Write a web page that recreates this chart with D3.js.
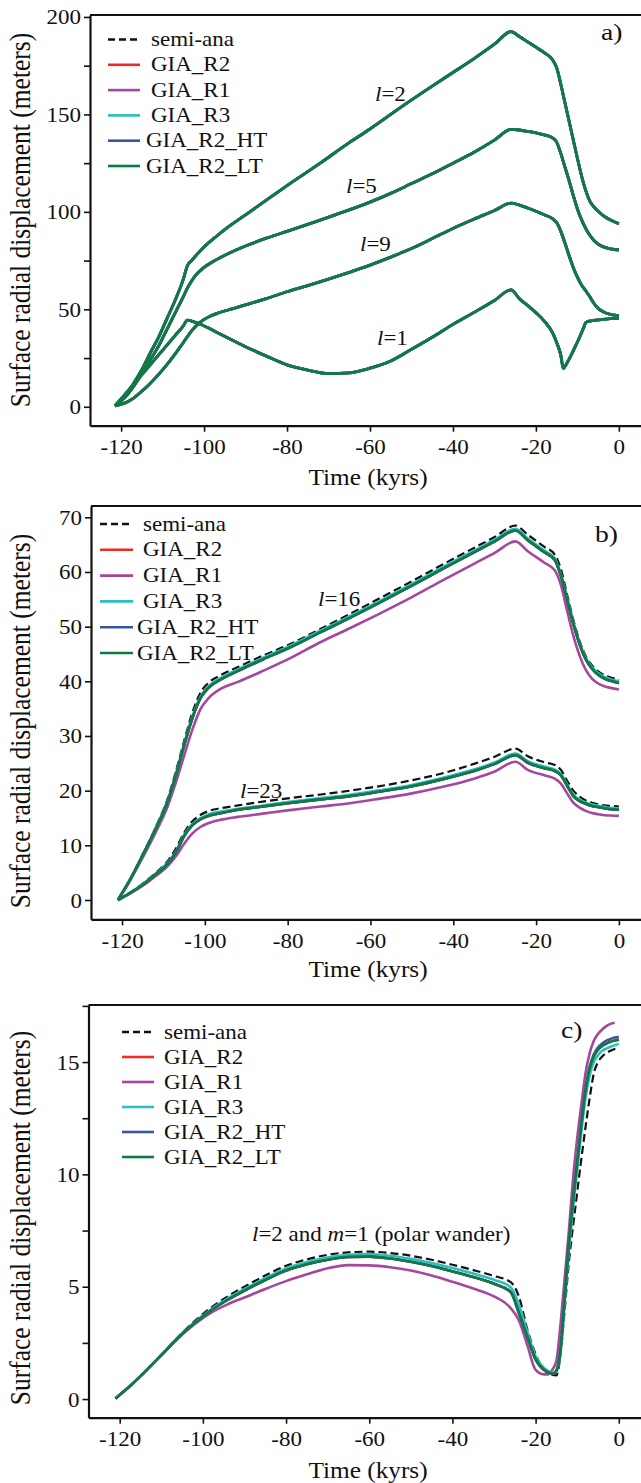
<!DOCTYPE html>
<html>
<head>
<meta charset="utf-8">
<script src="https://cdn.jsdelivr.net/npm/d3@7"></script>
<style>
  body { margin: 0; background: #fff; }
  svg { display: block; }
  text { font-family: "Liberation Serif", "Times New Roman", serif; fill: #111; }
</style>
</head>
<body>
<svg id="chart" width="641" height="1483"></svg>
<script>
const seriesNames = ["semi-ana", "GIA_R2", "GIA_R1", "GIA_R3", "GIA_R2_HT", "GIA_R2_LT"];
const seriesColors = ["#111111", "#ed2b25", "#a6479f", "#2bbfc0", "#3a54a4", "#0d7b42"];

const xTicks = [-120, -100, -80, -60, -40, -20, 0];
const aTicks = [0, 25, 50, 75, 100, 125, 150, 175, 200];
const bTicks = [0, 10, 20, 30, 40, 50, 60, 70];
const cTicks = [0, 2.5, 5, 7.5, 10, 12.5, 15, 17.5];

// panel a: the six runs sit on top of each other, one curve per degree l
const aL2 = [[-121.5,0.5],[-119,6],[-117,12],[-115,19],[-113,27.5],[-111,35.5],[-109,45],[-107,54.5],[-105,65.5],[-104,72.5],[-103,75],[-102,77.5],[-100,82],[-97,87.5],[-94,92.5],[-90,98.5],[-85,106],[-80,113.5],[-72,125],[-65,135.5],[-60,142.5],[-52,154.5],[-45,164.5],[-40,171.5],[-35,178.5],[-30,186],[-26,192.5],[-24,190],[-22,187.2],[-20,184.5],[-18,181.7],[-16,178],[-15,174],[-14,165.5],[-13,156],[-12,146.5],[-11,137],[-10,127.5],[-9,118.5],[-8,111],[-7,105.5],[-6,102.5],[-5,100.3],[-4,98.5],[-3,97],[-2,95.8],[-1,94.8],[0,94]];
const aL5 = [[-121.5,0.5],[-119,5],[-117,10.5],[-115,17],[-113,24],[-111,31],[-109,39.5],[-107,48],[-105,56.5],[-104,61],[-103,64.5],[-102,67.5],[-100,71.5],[-97,75.5],[-94,78.8],[-90,82.5],[-85,86.5],[-80,90],[-72,95.8],[-65,101],[-60,105],[-55,109.5],[-50,114.5],[-45,119.5],[-40,125],[-35,130.5],[-30,136.8],[-26,142.3],[-24,142],[-22,141.3],[-20,140.5],[-18,139.5],[-16,138],[-15,135.8],[-14,130],[-13,123],[-12,116],[-11,108.5],[-10,101.5],[-9,96],[-8,91.5],[-7,88],[-6,85.3],[-5,83.5],[-4,82.3],[-3,81.5],[-2,81],[-1,80.7],[0,80.5]];
const aL9 = [[-121.5,0.5],[-119,2],[-117,4.5],[-115,8],[-113,12],[-111,16.5],[-109,21.5],[-107,27],[-105,33],[-103,39],[-101,43.3],[-99,46],[-97,47.8],[-94,49.8],[-90,52.3],[-85,55.5],[-80,59],[-75,62.2],[-70,65.5],[-65,69],[-60,72.7],[-55,76.8],[-50,81.2],[-45,86.3],[-40,91.5],[-35,96.2],[-30,100.7],[-26,104.5],[-24,103.5],[-22,102],[-20,100.3],[-18,98.5],[-16,96.5],[-15,94.5],[-14,90],[-13,84],[-12,77.5],[-11,71.5],[-10,66.5],[-9,62.5],[-8,59.5],[-7,56.5],[-6,53],[-5,50.5],[-4,49],[-3,48],[-2,47.4],[-1,47],[0,46.8]];
const aL1 = [[-121.5,0.5],[-119,6.5],[-117,11.5],[-115,16.5],[-113,21.5],[-111,26.5],[-109,31.5],[-107,36.5],[-105,41.5],[-104,44.5],[-103,44],[-101,42.5],[-99,40.5],[-97,38.3],[-94,35],[-90,30.8],[-85,26],[-80,21.5],[-75,18.8],[-70,17],[-65,17.4],[-60,19.8],[-55,23.5],[-50,29.5],[-45,35.7],[-40,42.3],[-35,48.3],[-30,54.5],[-26,60],[-24,55.5],[-22,52],[-20,48.3],[-18,44],[-16,38],[-15,33],[-14,26.5],[-13.4,19.7],[-12.5,22.5],[-11.5,26.5],[-10.5,31],[-9.5,35.5],[-8.5,40.5],[-8,43.2],[-7,44],[-6,44.3],[-5,44.6],[-4,44.8],[-3,45],[-2,45.2],[-1,45.3],[0,45.4]];

// panel b: l=16 and l=23
const timeB = [-121, -118, -115, -112, -109, -107, -105, -103, -101, -99, -96, -92, -86, -80, -72, -65, -58, -50, -42, -35, -30, -25, -22, -18, -15.5, -14, -12.5, -11, -9.5, -8, -6.5, -5, -3.5, -2, 0];
const bL16Semi = [0, 3.9, 8.4, 13.1, 18.5, 23.5, 29.1, 34.3, 38, 39.8, 41.2, 42.6, 44.7, 46.6, 49.6, 52.3, 55.1, 58.3, 61.6, 64.4, 66.4, 68.5, 66.8, 64.6, 63.2, 60.5, 55.8, 51.2, 47.4, 44.6, 42.9, 41.8, 41.1, 40.7, 40.3];
const bL16R2 = [0, 3.8, 8.2, 12.8, 18, 22.8, 28.3, 33.3, 37, 38.9, 40.4, 41.9, 44, 46, 49, 51.6, 54.3, 57.5, 60.8, 63.6, 65.6, 67.6, 65.8, 63.6, 62.2, 59.3, 54.9, 50.5, 46.8, 44, 42.3, 41.2, 40.5, 40.1, 39.7];
const bL16R1 = [0, 3.6, 7.8, 12.2, 17.1, 21.5, 26.4, 31.2, 35, 37, 38.7, 39.9, 41.9, 44, 47.2, 49.7, 52.3, 55.4, 58.7, 61.5, 63.5, 65.6, 63.8, 61.7, 60.3, 57.6, 52.9, 48.3, 44.7, 42.1, 40.5, 39.6, 39.1, 38.8, 38.5];
const bL16R3 = [0, 3.85, 8.3, 12.95, 18.2, 23, 28.6, 33.6, 37.3, 39.2, 40.7, 42.2, 44.3, 46.3, 49.3, 51.9, 54.6, 57.8, 61.1, 63.9, 65.9, 67.9, 66.1, 63.9, 62.5, 59.6, 55.2, 50.8, 47.1, 44.3, 42.6, 41.5, 40.8, 40.4, 40];
const bL23Semi = [0, 1.4, 3, 4.9, 7.1, 9.4, 12.3, 14.4, 15.6, 16.3, 16.8, 17.3, 18, 18.6, 19.3, 20, 20.8, 21.9, 23.3, 24.9, 26.2, 27.7, 26.3, 25.2, 24.7, 23.8, 21.8, 20, 18.9, 18.2, 17.8, 17.5, 17.3, 17.2, 17.1];
const bL23R2 = [0, 1.3, 2.8, 4.6, 6.6, 8.7, 11.7, 13.7, 14.8, 15.4, 15.9, 16.5, 17.1, 17.7, 18.4, 19, 19.8, 20.8, 22.2, 23.6, 24.9, 26.5, 25.1, 24.1, 23.6, 22.8, 20.9, 19, 18.1, 17.6, 17.2, 17, 16.8, 16.6, 16.5];
const bL23R1 = [0, 1.2, 2.6, 4.3, 6.2, 8, 10.3, 12.2, 13.4, 14.1, 14.7, 15.2, 15.8, 16.4, 17.1, 17.7, 18.5, 19.5, 20.8, 22.2, 23.5, 25.3, 23.8, 22.8, 22.2, 21.3, 19.5, 17.8, 16.9, 16.3, 15.9, 15.7, 15.5, 15.45, 15.4];
const bL23R3 = [0, 1.35, 2.9, 4.75, 6.8, 8.9, 11.9, 13.9, 15, 15.7, 16.2, 16.7, 17.3, 17.9, 18.65, 19.25, 20.05, 21.05, 22.45, 23.85, 25.15, 26.8, 25.4, 24.4, 23.85, 23.05, 21.15, 19.25, 18.35, 17.85, 17.45, 17.25, 17.05, 16.85, 16.75];

// panel c: l=2, m=1 (polar wander)
const timeC = [-121, -118, -114, -110, -106, -102, -98, -94, -90, -85, -80, -75, -70, -65, -60, -55, -50, -45, -40, -35, -30, -26, -24, -22, -20, -18, -17, -16, -15, -14, -13, -12, -11, -10, -9, -8, -7, -6, -5, -4, -3, -2, -1, 0];
const cSemi = [0.03, 0.5, 1.2, 1.97, 2.76, 3.47, 4.07, 4.57, 5.0, 5.5, 5.93, 6.22, 6.42, 6.53, 6.56, 6.5, 6.38, 6.2, 5.98, 5.74, 5.48, 5.2, 4.55, 3.1, 2.0, 1.29, 1.15, 1.07, 1.05, 2.0, 4.0, 6.1, 7.7, 9.2, 10.7, 12.1, 13.4, 14.5, 15.0, 15.25, 15.4, 15.5, 15.58, 15.63];
const cR2 = [0.03, 0.5, 1.2, 1.95, 2.72, 3.38, 3.95, 4.42, 4.83, 5.3, 5.72, 6.0, 6.2, 6.32, 6.34, 6.26, 6.11, 5.92, 5.68, 5.43, 5.13, 4.78, 3.85, 2.8, 1.78, 1.3, 1.2, 1.12, 1.25, 2.2, 4.5, 6.9, 8.8, 10.5, 12.2, 13.7, 14.7, 15.25, 15.55, 15.72, 15.82, 15.9, 15.96, 16.0];
const cR1 = [0.03, 0.5, 1.2, 1.95, 2.7, 3.33, 3.85, 4.22, 4.52, 4.9, 5.25, 5.55, 5.82, 5.96, 5.95, 5.87, 5.72, 5.5, 5.22, 4.92, 4.57, 4.05, 3.5, 2.4, 1.3, 1.1, 1.1, 1.3, 1.7, 3.35, 5.4, 7.5, 9.8, 11.6, 13.1, 14.5, 15.4, 15.95, 16.25, 16.45, 16.6, 16.7, 16.75, null];
const cR3 = [0.03, 0.5, 1.2, 1.96, 2.74, 3.42, 4.0, 4.48, 4.9, 5.38, 5.81, 6.1, 6.3, 6.42, 6.45, 6.38, 6.24, 6.05, 5.83, 5.59, 5.31, 4.98, 4.2, 3.0, 1.9, 1.38, 1.25, 1.15, 1.25, 2.1, 4.3, 6.6, 8.5, 10.2, 11.9, 13.4, 14.4, 15.0, 15.3, 15.5, 15.6, 15.68, 15.75, 15.8];
const cHT = [0.03, 0.5, 1.2, 1.95, 2.72, 3.38, 3.95, 4.42, 4.83, 5.3, 5.72, 6.0, 6.2, 6.32, 6.34, 6.26, 6.11, 5.92, 5.68, 5.43, 5.13, 4.75, 3.8, 2.75, 1.75, 1.3, 1.18, 1.12, 1.28, 2.25, 4.6, 7.0, 8.9, 10.6, 12.3, 13.8, 14.8, 15.35, 15.65, 15.83, 15.95, 16.03, 16.09, 16.13];

const zipT = (ts, vs) => ts.map((t, i) => [t, vs[i]]);

const svg = d3.select("#chart");
const SX = 1.15; // the original picture is a bit wider than tall

const panels = [
    {
        left: 90, top: 15, bottom: 425.7, yDomain: [-9.7, 201], yTicks: aTicks, labelStep: 50, lw: 2.8,
        tag: "a)", tagPos: [601, 40], xTitleY: 485, yTitleY: 220,
        legend: { y0: 39.5, dy: 25.3, x1: 108, x2: 140, tx: [151, 151, 151, 151, 146, 146] },
        labels: [
            { pre: "l", post: "=2", x: 375, y: 101 },
            { pre: "l", post: "=5", x: 346, y: 193 },
            { pre: "l", post: "=9", x: 360, y: 251 },
            { pre: "l", post: "=1", x: 377, y: 345 }
        ],
        runs: seriesNames.map(() => [aL2, aL5, aL9, aL1])
    },
    {
        left: 91, top: 506, bottom: 919.3, yDomain: [-3.53, 72.07], yTicks: bTicks, labelStep: 10, lw: 2.6,
        tag: "b)", tagPos: [595, 542], xTitleY: 977, yTitleY: 721,
        legend: { y0: 524, dy: 25.8, x1: 100, x2: 133, tx: [143, 143, 143, 143, 137, 137] },
        labels: [
            { pre: "l", post: "=16", x: 318, y: 606 },
            { pre: "l", post: "=23", x: 240, y: 798 }
        ],
        runs: [[bL16Semi, bL23Semi], [bL16R2, bL23R2], [bL16R1, bL23R1], [bL16R3, bL23R3], [bL16R2, bL23R2], [bL16R2, bL23R2]]
            .map(list => list.map(vs => zipT(timeB, vs)))
    },
    {
        left: 88.5, top: 1005, bottom: 1417.7, yDomain: [-0.83, 17.54], yTicks: cTicks, labelStep: 5, lw: 2.6,
        tag: "c)", tagPos: [561, 1038], xTitleY: 1478, yTitleY: 1218,
        legend: { y0: 1032, dy: 25, x1: 122, x2: 154, tx: [164, 164, 164, 164, 164, 164] },
        labels: [
            { pre: "l", post: "=2 and ", pre2: "m", post2: "=1 (polar wander)", x: 252, y: 1241 }
        ],
        runs: [[cSemi], [cR2], [cR1], [cR3], [cHT], [cR2]].map(list => list.map(vs => zipT(timeC, vs)))
    }
];

panels.forEach(drawPanel);

function drawPanel(p) {
    const right = 645;
    const x = d3.scaleLinear().domain([-127.5, 6.3]).range([p.left, right]);
    const y = d3.scaleLinear().domain(p.yDomain).range([p.bottom, p.top]);
    const g = svg.append("g");

    const line = d3.line()
        .defined(d => d[1] != null)
        .x(d => x(d[0]))
        .y(d => y(d[1]))
        .curve(d3.curveMonotoneX);

    p.runs.forEach((curves, i) => {
        curves.forEach(pts => {
            g.append("path")
                .attr("d", line(pts))
                .attr("fill", "none")
                .attr("stroke", seriesColors[i])
                .attr("stroke-width", i == 0 ? 2.2 : p.lw)
                .attr("stroke-dasharray", i == 0 ? "8,4" : null)
                .attr("stroke-linejoin", "round");
        });
    });

    // axes
    const yAxis = g.append("g")
        .attr("transform", `translate(${p.left},0)`)
        .call(d3.axisLeft(y).tickValues(p.yTicks).tickSize(6).tickSizeOuter(0)
            .tickFormat(d => (d % p.labelStep == 0) ? String(d) : ""));
    const xAxis = g.append("g")
        .attr("transform", `translate(0,${p.bottom})`)
        .call(d3.axisBottom(x).tickValues(xTicks).tickSize(6).tickSizeOuter(0).tickFormat(d => String(d)));

    [yAxis, xAxis].forEach(a => {
        a.attr("font-size", 20).attr("font-family", null);
        a.select(".domain").attr("stroke-width", 2.2).attr("stroke", "#111");
        a.selectAll(".tick line").attr("stroke-width", 1.6).attr("stroke", "#111");
    });
    yAxis.selectAll(".tick text").attr("x", null).attr("dy", null)
        .attr("transform", `translate(-9,7) scale(${SX},1)`);
    xAxis.selectAll(".tick text").attr("y", null).attr("dy", null)
        .attr("transform", `translate(0,28.5) scale(${SX},1)`);

    // top and right frame
    g.append("path")
        .attr("d", `M${p.left},${p.top}H${right}V${p.bottom}`)
        .attr("fill", "none")
        .attr("stroke", "#111")
        .attr("stroke-width", 2.2);

    // titles
    g.append("text")
        .attr("text-anchor", "middle")
        .attr("font-size", 23)
        .attr("transform", `translate(368,${p.xTitleY}) scale(1.1,1)`)
        .text("Time (kyrs)");
    g.append("text")
        .attr("text-anchor", "middle")
        .attr("font-size", 25.5)
        .attr("transform", `translate(29.5,${p.yTitleY}) scale(${SX},1) rotate(-90)`)
        .text("Surface radial displacement (meters)");

    g.append("text")
        .attr("font-size", 24)
        .attr("transform", `translate(${p.tagPos[0]},${p.tagPos[1]}) scale(${SX},1)`)
        .text(p.tag);

    // curve labels
    p.labels.forEach(l => {
        const t = g.append("text")
            .attr("font-size", 20)
            .attr("transform", `translate(${l.x},${l.y}) scale(${SX},1)`);
        t.append("tspan").attr("font-style", "italic").text(l.pre);
        t.append("tspan").text(l.post);
        if (l.pre2) {
            t.append("tspan").attr("font-style", "italic").text(l.pre2);
            t.append("tspan").text(l.post2);
        }
    });

    // legend
    const lg = p.legend;
    seriesNames.forEach((name, i) => {
        const ly = lg.y0 + i * lg.dy;
        g.append("line")
            .attr("x1", lg.x1).attr("x2", lg.x2)
            .attr("y1", ly).attr("y2", ly)
            .attr("stroke", seriesColors[i])
            .attr("stroke-width", 2.6)
            .attr("stroke-dasharray", i == 0 ? "7,4" : null);
        g.append("text")
            .attr("font-size", 20)
            .attr("transform", `translate(${lg.tx[i]},${ly + 6.5}) scale(${SX},1)`)
            .text(name);
    });
}
</script>
</body>
</html>
